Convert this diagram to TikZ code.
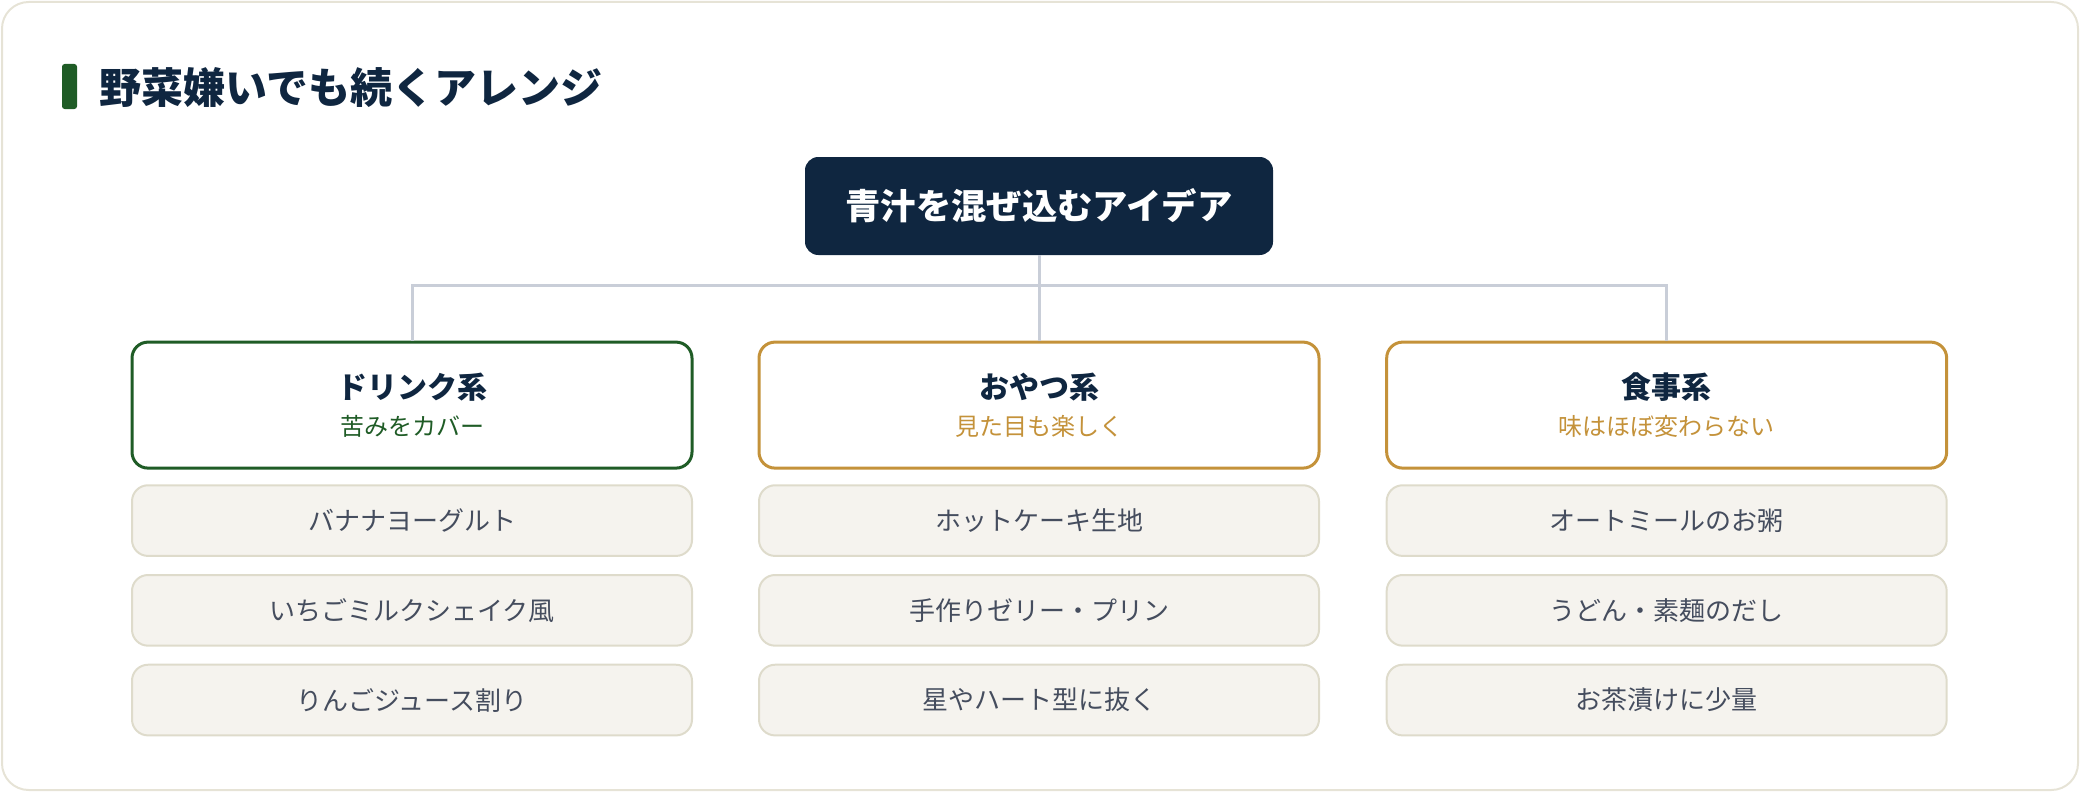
\documentclass[tikz,border=0pt]{standalone}
\usepackage{fontspec}
\setmainfont{Noto Sans CJK JP}
\usepackage{tikz}
\usetikzlibrary{positioning}
\definecolor{navy}{HTML}{0F2640}
\definecolor{leaf}{HTML}{1F5C26}
\definecolor{gold}{HTML}{C4923A}
\definecolor{wire}{HTML}{C9CED8}
\definecolor{paper}{HTML}{F5F3EE}
\definecolor{paperline}{HTML}{DEDBCB}
\definecolor{inktext}{HTML}{454D5E}
\definecolor{frame}{HTML}{E6E3D6}
\tikzset{
    idea/.style={
        rectangle,
        rounded corners=10pt,
        fill=navy,
        text=white,
        minimum width=351pt,
        minimum height=73.5pt,
        font=\bfseries\fontsize{26.5pt}{32pt}\selectfont
    },
    catbox/.style={
        rectangle,
        rounded corners=12pt,
        fill=white,
        line width=2.25pt,
        minimum width=420pt,
        minimum height=94.5pt,
        align=center,
        text=navy
    },
    itembox/.style={
        rectangle,
        rounded corners=12pt,
        fill=paper,
        draw=paperline,
        line width=1.5pt,
        minimum width=420pt,
        minimum height=53pt,
        text=inktext,
        font=\fontsize{19.5pt}{24pt}\selectfont
    },
    link/.style={
        draw=wire,
        line width=2.25pt
    },
}
\newcommand{\cattitle}[1]{{\bfseries\fontsize{22.5pt}{27pt}\selectfont #1}}
\newcommand{\catsub}[2]{{\color{#1}\fontsize{18pt}{22pt}\selectfont #2}}

\begin{document}
\begin{tikzpicture}[x=0.75pt, y=-0.75pt]

\useasboundingbox (0,0) rectangle (2080,792);

% outer card
\draw[frame, line width=1.5pt, rounded corners=20pt] (2,2) rectangle (2078,790);

% heading
\fill[leaf, rounded corners=2pt] (62,64) rectangle (77,109);
\node[anchor=west, text=navy, inner sep=0pt, font=\bfseries\fontsize{31.5pt}{38pt}\selectfont] (heading) at (99,88) {野菜嫌いでも続くアレンジ};

% root
\node[idea] (idea) at (1039,206) {青汁を混ぜ込むアイデア};

% categories
\node[catbox, draw=gold, below=64pt of idea] (snack) {
    \cattitle{おやつ系}\\[9.5pt]
    \catsub{gold}{見た目も楽しく}
};
\node[catbox, draw=leaf, left=48pt of snack] (drink) {
    \cattitle{ドリンク系}\\[9.5pt]
    \catsub{leaf}{苦みをカバー}
};
\node[catbox, draw=gold, right=48.5pt of snack] (meal) {
    \cattitle{食事系}\\[9.5pt]
    \catsub{gold}{味はほぼ変わらない}
};

% drink items
\node[itembox, below=11pt of drink] (drink1) {バナナヨーグルト};
\node[itembox, below=12.8pt of drink1] (drink2) {いちごミルクシェイク風};
\node[itembox, below=12.8pt of drink2] (drink3) {りんごジュース割り};

% snack items
\node[itembox, below=11pt of snack] (snack1) {ホットケーキ生地};
\node[itembox, below=12.8pt of snack1] (snack2) {手作りゼリー・プリン};
\node[itembox, below=12.8pt of snack2] (snack3) {星やハート型に抜く};

% meal items
\node[itembox, below=11pt of meal] (meal1) {オートミールのお粥};
\node[itembox, below=12.8pt of meal1] (meal2) {うどん・素麺のだし};
\node[itembox, below=12.8pt of meal2] (meal3) {お茶漬けに少量};

% connectors
\coordinate (bus) at (1039,285);
\draw[link] (idea.south) -- (bus);
\draw[link] (bus) -| (drink.north);
\draw[link] (bus) -| (meal.north);
\draw[link] (bus) -- (snack.north);

\end{tikzpicture}
\end{document}
